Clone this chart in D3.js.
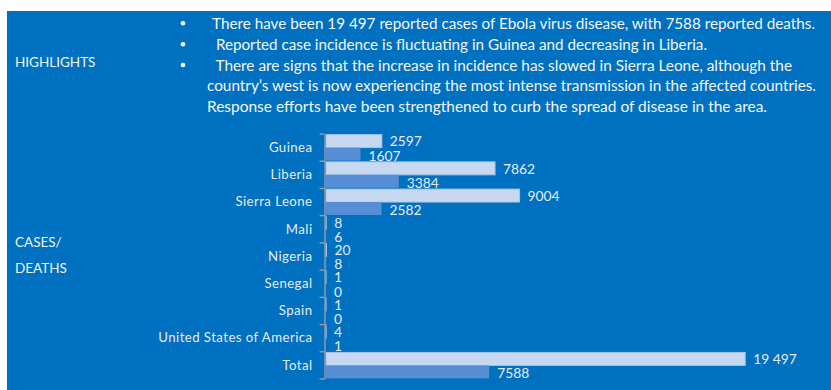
<!DOCTYPE html>
<html>
<head>
<meta charset="utf-8">
<script src="https://cdn.jsdelivr.net/npm/d3@7/dist/d3.min.js"></script>
<style>
  html, body { margin: 0; padding: 0; background: #ffffff; }
  svg { display: block; }
  text { font-family: Lato, "Open Sans", sans-serif; }
</style>
</head>
<body>
<svg id="chart" width="831" height="390"></svg>
<script>
// ---- data ----
const countries = ["Guinea", "Liberia", "Sierra Leone", "Mali", "Nigeria", "Senegal", "Spain", "United States of America", "Total"];
const cases  = [2597, 7862, 9004, 8, 20, 1, 1, 4, 19497];
const deaths = [1607, 3384, 2582, 6, 8, 0, 0, 1, 7588];
const highlights = [
  { bullet: true,  text: "There have been 19 497 reported cases of Ebola virus disease, with 7588 reported deaths." },
  { bullet: true,  text: " Reported case incidence is fluctuating in Guinea and decreasing in Liberia." },
  { bullet: true,  text: " There are signs that the increase in incidence has slowed in Sierra Leone, although the" },
  { bullet: false, text: "country\u2019s west is now experiencing the most intense transmission in the affected countries." },
  { bullet: false, text: "Response efforts have been strengthened to curb the spread of disease in the area." }
];
const sectionLabels = ["HIGHLIGHTS", "CASES/", "DEATHS"];

// ---- layout ----
const svg = d3.select("#chart");
const W = 831, H = 390;
const BG = "#0070C0", CASE = "#c6d9f1", DEATH = "#558ed5", TXT = "#e4ecf7";

svg.append("rect").attr("x", 7).attr("y", 11).attr("width", W - 7).attr("height", H - 11).attr("fill", BG);

// Highlights block
const hlY = [23.3, 44.3, 65, 85.5, 106];
const hlX = [212, 212, 212, 207, 207];
const hlW = [603, 495, 580, 609, 560];
const hl = svg.append("g");
highlights.forEach((h, i) => {
  if (h.bullet) hl.append("circle").attr("cx", 183).attr("cy", hlY[i]).attr("r", 2.3).attr("fill", "#ffffff");
  hl.append("text")
    .attr("x", hlX[i]).attr("y", hlY[i])
    .attr("dominant-baseline", "central")
    .attr("fill", "#f4f7fb")
    .attr("font-size", 14.5)
    .attr("textLength", hlW[i])
    .attr("lengthAdjust", "spacingAndGlyphs")
    .style("white-space", "pre")
    .text(h.text);
});

const secY = [62, 241.7, 267.7];
sectionLabels.forEach((s, i) => {
  svg.append("text").attr("x", 15).attr("y", secY[i])
    .attr("dominant-baseline", "central")
    .attr("fill", "#f0f4fa").attr("font-size", 13.5)
    .text(s);
});

// Bar chart
const axisX = 324.5;
const x = d3.scaleLinear().domain([0, 20000]).range([326, 326 + 430]);
const y = d3.scaleBand().domain(countries).range([134, 379]).padding(0);
const ySub = d3.scaleBand().domain(["cases", "deaths"]).range([0, y.bandwidth()]).paddingInner(0).paddingOuter(0.05);

const rows = countries.map((c, i) => ({ c, cases: cases[i], deaths: deaths[i] }));
const fmt = v => v >= 10000 ? d3.format(",")(v).replace(/,/g, " ") : String(v);

const g = svg.append("g");
const row = g.selectAll("g.row").data(rows).join("g").attr("class", "row")
  .attr("transform", d => `translate(0,${y(d.c)})`);

row.append("rect")
  .attr("x", x(0)).attr("y", ySub("cases"))
  .attr("width", d => Math.max(0, x(d.cases) - x(0)))
  .attr("height", ySub.bandwidth())
  .attr("fill", CASE).attr("stroke", "#a9c3e8").attr("stroke-width", 1);

row.append("rect")
  .attr("x", x(0)).attr("y", ySub("deaths"))
  .attr("width", d => Math.max(0, x(d.deaths) - x(0)))
  .attr("height", ySub.bandwidth())
  .attr("fill", DEATH);

row.append("text")
  .attr("x", d => x(d.cases) + 8).attr("y", ySub("cases") + ySub.bandwidth() / 2 - 0.3)
  .attr("dominant-baseline", "central").attr("fill", TXT).attr("font-size", 13.8)
  .text(d => fmt(d.cases));

row.append("text")
  .attr("x", d => x(d.deaths) + 8).attr("y", ySub("deaths") + ySub.bandwidth() / 2 + 1)
  .attr("dominant-baseline", "central").attr("fill", TXT).attr("font-size", 13.8)
  .text(d => fmt(d.deaths));

// Axis
const ax = svg.append("g").attr("transform", `translate(${axisX},0)`)
  .call(d3.axisLeft(y).tickSize(0).tickPadding(12));
ax.select(".domain").attr("stroke", "#a0a0a0").attr("stroke-width", 1.3);
ax.selectAll(".tick text").attr("fill", TXT).attr("font-size", 13.2)
  .attr("font-family", "Lato, 'Open Sans', sans-serif").attr("letter-spacing", 0.45);

const bounds = countries.map(c => y(c)).concat([y.range()[1]]);
svg.append("g").selectAll("line").data(bounds).join("line")
  .attr("x1", axisX - 5).attr("x2", axisX).attr("y1", d => d).attr("y2", d => d)
  .attr("stroke", "#a0a0a0").attr("stroke-width", 1.3);
</script>
</body>
</html>
